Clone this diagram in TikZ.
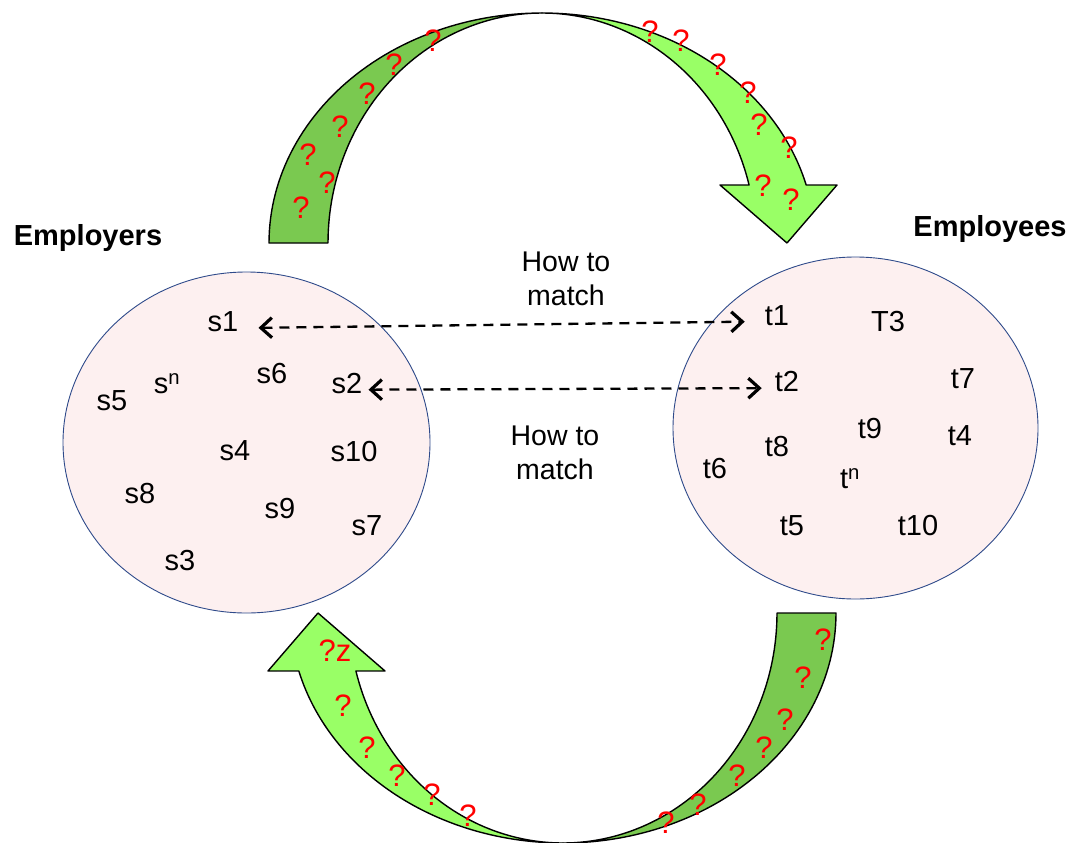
\documentclass[tikz,border=0pt]{standalone}
\usepackage{fontspec}
\setmainfont{Liberation Sans}
\usetikzlibrary{arrows.meta,shapes.geometric}

\definecolor{ribbondark}{RGB}{122,201,80}
\definecolor{ribbonlight}{RGB}{153,255,102}
\definecolor{setfill}{RGB}{253,240,240}
\definecolor{setline}{RGB}{46,74,138}

% One curved ribbon arrow: dark back half (tail, left) and light front half (head, right)
\newcommand\ribbonpair{%
  \filldraw[ribbon, fill=ribbondark]
    plot[domain=180:90, samples=60] ({542+273*cos(\x)},{243-230*sin(\x)})
    -- plot[domain=90:180, samples=60] ({542+214*cos(\x)},{243-230*sin(\x)})
    -- cycle;
  \filldraw[ribbon, fill=ribbonlight]
    plot[domain=90:14.6, samples=60] ({542+273*cos(\x)},{243-230*sin(\x)})
    -- (837,185) -- (787,243) -- (720,185)
    -- plot[domain=14.6:90, samples=60] ({542+214*cos(\x)},{243-230*sin(\x)})
    -- cycle;
}

\begin{document}
\begin{tikzpicture}[x=1pt, y=-1pt,
  setnode/.style={ellipse, draw=setline, fill=setfill, line width=0.9pt, inner sep=0pt},
  member/.style={font=\fontsize{29}{34}\selectfont, text height=0.72em, text depth=0pt, inner sep=0pt, anchor=base},
  heading/.style={font=\bfseries\fontsize{29}{34}\selectfont, inner sep=0pt, anchor=base},
  query/.style={font=\fontsize{31}{36}\selectfont, text=red, text height=0.72em, text depth=0pt, inner sep=0pt},
  matchnote/.style={font=\fontsize{28.5}{34}\selectfont, align=center, inner sep=0pt},
  barb/.tip={Straight Barb[length=11pt, width=20pt, line width=3.2pt]},
  matchline/.style={line width=2.3pt, dash pattern=on 10pt off 7pt, barb-barb},
  ribbon/.style={draw=black, line width=1.4pt, line join=round}
]
\useasboundingbox (0,0) rectangle (1068,843);

% the two sets
\node[setnode, minimum width=367pt, minimum height=341pt] (Lset) at (246.5,442.5) {};
\node[setnode, minimum width=365pt, minimum height=342pt] (Rset) at (855.5,428) {};

% headings
\node[heading] (hL) at (88,245.5) {Employers};
\node[heading] (hR) at (990,236.7) {Employees};

% members of the employer set
\node[member] (s1)  at (223,331.7) {s1};
\node[member] (s6)  at (272,383.3) {s6};
\node[member] (s2)  at (347,393.3) {s2};
\node[member] (sn)  at (167,393.3) {s\textsuperscript{n}};
\node[member] (s5)  at (112,410)   {s5};
\node[member] (s4)  at (235,460)   {s4};
\node[member] (s10) at (354,461.7) {s10};
\node[member] (s8)  at (140,503.3) {s8};
\node[member] (s9)  at (280,518.3) {s9};
\node[member] (s7)  at (367,535)   {s7};
\node[member] (s3)  at (180,570)   {s3};

% members of the employee set
\node[member] (t1)  at (777,325)   {t1};
\node[member] (t3)  at (888,331.7) {T3};
\node[member] (t2)  at (787,391.7) {t2};
\node[member] (t7)  at (963,388.3) {t7};
\node[member] (t9)  at (870,438.3) {t9};
\node[member] (t4)  at (960,445)   {t4};
\node[member] (t8)  at (777,456.7) {t8};
\node[member] (t6)  at (715,478.3) {t6};
\node[member] (tn)  at (850,488.3) {t\textsuperscript{n}};
\node[member] (t5)  at (792,535)   {t5};
\node[member] (t10) at (918,535)   {t10};

% matching links
\draw[matchline, shorten <=20pt, shorten >=20pt] (s1.east) -- (t1.west);
\draw[matchline, shorten <=6pt, shorten >=13pt] (s2.east) -- (t2.west);
\node[matchnote] (m1) at (566,279) {How to\\match};
\node[matchnote] (m2) at (555,453) {How to\\match};

% ribbon arrows: top one, and the same shape turned half a turn below
\ribbonpair
\begin{scope}[rotate around={180:(552.5,428)}]
  \ribbonpair
\end{scope}

% question marks on the top ribbon
\foreach \p [count=\i] in {{433,48},{394,72},{367,101},{340,134},{308,162},{327,190},{301,215},
                           {650,39},{681,48},{718,72},{748,100},{759,132},{789,155},{763,193},{791,207}}
  \node[query] (qa\i) at (\p) {?};

% question marks on the bottom ribbon
\node[query] (qz) at (335,658) {?z};
\foreach \p [count=\i] in {{343,713},{367,755},{397,783},{432,802},{468,823},
                           {823,647},{803,685},{785,727},{764,755},{737,783},{698,812},{666,830}}
  \node[query] (qb\i) at (\p) {?};
\end{tikzpicture}
\end{document}
